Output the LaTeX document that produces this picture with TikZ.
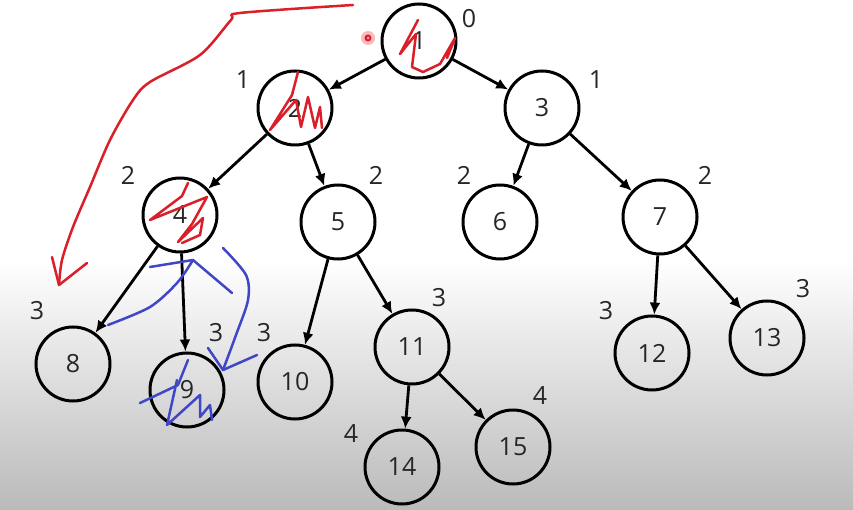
\documentclass[tikz,border=0pt]{standalone}
\usepackage{fontspec}
\setmainfont{Open Sans}
\usetikzlibrary{arrows.meta}
\definecolor{penred}{rgb}{0.86,0.12,0.16}
\definecolor{penblue}{rgb}{0.25,0.28,0.78}

\begin{document}
\begin{tikzpicture}[x=1pt, y=-1pt, font=\fontsize{25}{30}\selectfont,
    vtx/.style={circle,draw=black,line width=3pt,minimum size=74pt,inner sep=0pt,text=black!85},
    lvl/.style={text=black!85,inner sep=0pt},
    pen/.style={line width=2.5pt,line cap=round,line join=round}]
    \useasboundingbox (0,0) rectangle (853,510);
    \fill[white] (0,0) rectangle (853,262);
    \shade[top color=white,bottom color=black!27] (0,260) rectangle (853,510);
    % tree
    \node[vtx] (v1) at (419,41) {1};
    \node[vtx] (v2) at (295,108) {2};
    \node[vtx] (v3) at (542,108) {3};
    \node[vtx] (v4) at (180,215) {4};
    \node[vtx] (v5) at (338,222) {5};
    \node[vtx] (v6) at (500,222) {6};
    \node[vtx] (v7) at (660,217) {7};
    \node[vtx] (v8) at (73,364) {8};
    \node[vtx] (v9) at (187,390) {9};
    \node[vtx] (v10) at (295,382) {10};
    \node[vtx] (v11) at (412,347) {11};
    \node[vtx] (v12) at (652,353) {12};
    \node[vtx] (v13) at (767,338) {13};
    \node[vtx] (v14) at (402,467) {14};
    \node[vtx] (v15) at (513,447) {15};
    % depths
    \node[lvl] (d1) at (469,19) {0};
    \node[lvl] (d2) at (243,80) {1};
    \node[lvl] (d3) at (596,80) {1};
    \node[lvl] (d4) at (128,175) {2};
    \node[lvl] (d5) at (376,175) {2};
    \node[lvl] (d6) at (464,175) {2};
    \node[lvl] (d7) at (705,175) {2};
    \node[lvl] (d8) at (37,311) {3};
    \node[lvl] (d9) at (216,333) {3};
    \node[lvl] (d10) at (264,333) {3};
    \node[lvl] (d11) at (439,298) {3};
    \node[lvl] (d12) at (606,311) {3};
    \node[lvl] (d13) at (803,289) {3};
    \node[lvl] (d14) at (351,434) {4};
    \node[lvl] (d15) at (540,396) {4};
    \draw[-{Latex[length=12pt,width=11pt]}, line width=2.8pt] (v1) edge (v2);
    \draw[-{Latex[length=12pt,width=11pt]}, line width=2.8pt] (v1) edge (v3);
    \draw[-{Latex[length=12pt,width=11pt]}, line width=2.8pt] (v2) edge (v4);
    \draw[-{Latex[length=12pt,width=11pt]}, line width=2.8pt] (v2) edge (v5);
    \draw[-{Latex[length=12pt,width=11pt]}, line width=2.8pt] (v3) edge (v6);
    \draw[-{Latex[length=12pt,width=11pt]}, line width=2.8pt] (v3) edge (v7);
    \draw[-{Latex[length=12pt,width=11pt]}, line width=2.8pt] (v4) edge (v8);
    \draw[-{Latex[length=12pt,width=11pt]}, line width=2.8pt] (v4) edge (v9);
    \draw[-{Latex[length=12pt,width=11pt]}, line width=2.8pt] (v5) edge (v10);
    \draw[-{Latex[length=12pt,width=11pt]}, line width=2.8pt] (v5) edge (v11);
    \draw[-{Latex[length=12pt,width=11pt]}, line width=2.8pt] (v7) edge (v12);
    \draw[-{Latex[length=12pt,width=11pt]}, line width=2.8pt] (v7) edge (v13);
    \draw[-{Latex[length=12pt,width=11pt]}, line width=2.8pt] (v11) edge (v14);
    \draw[-{Latex[length=12pt,width=11pt]}, line width=2.8pt] (v11) edge (v15);
    % red pen
    \draw[penred, pen] plot[smooth] coordinates {(353,5) (240,13) (231,20) (200,55) (150,82) (133,100) (110,140) (90,187) (73,227) (62,260) (59,285)};
    \draw[penred, pen] (52,257) -- (59,285) -- (87,263);
    \draw[penred, pen] (418,20) -- (400,54) -- (416,34) -- (412,67) -- (423,72) -- (440,64) -- (455,38) -- (447,58);
    \draw[penred, pen] (298,72) -- (292,95) -- (270,130) -- (296,100) -- (301,127) -- (308,97) -- (315,128) -- (320,107) -- (322,128);
    \draw[penred, pen] (188,183) -- (182,196) -- (150,220) -- (207,197) -- (192,224) -- (178,242) -- (203,218) -- (200,235) -- (182,243);
    \fill[penred!30] (368,38) circle (7);
    \fill[penred] (368,38) circle (3.5);
    \fill[penred!45] (368,38) circle (1.5);
    % blue pen
    \draw[penblue, pen] plot[smooth] coordinates {(108,325) (150,307) (177,283) (193,260)};
    \draw[penblue, pen] (150,267) -- (193,260) -- (232,293);
    \draw[penblue, pen] plot[smooth] coordinates {(223,248) (246,275) (248,300) (236,335) (223,370)};
    \draw[penblue, pen] (208,348) -- (223,370) -- (257,355);
    \draw[penblue, pen] (188,360) -- (178,385) -- (140,403);
    \draw[penblue, pen] (177,380) -- (167,425) -- (200,395) -- (200,417) -- (210,405) -- (212,420);
\end{tikzpicture}
\end{document}
